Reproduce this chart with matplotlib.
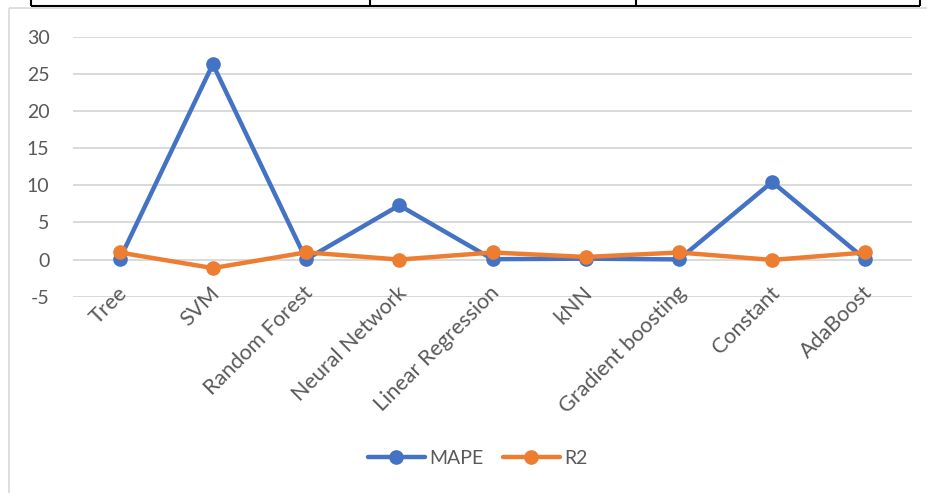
import matplotlib
matplotlib.use("Agg")
import matplotlib.pyplot as plt
import matplotlib.transforms as mtransforms
from matplotlib.lines import Line2D

# Model comparison data
models = ["Tree", "SVM", "Random Forest", "Neural Network", "Linear Regression",
          "kNN", "Gradient boosting", "Constant", "AdaBoost"]
mape = [0.02, 26.3, 0.02, 7.3, 0.05, 0.12, 0.02, 10.45, 0.02]
r2 = [0.95, -1.15, 0.97, 0.0, 0.95, 0.35, 0.95, -0.05, 0.95]
y_ticks = [-5, 0, 5, 10, 15, 20, 25, 30]

BLUE = "#4472C4"
ORANGE = "#ED7D31"
GRID = "#D9D9D9"
TEXT = "#595959"

plt.rcParams["font.family"] = ["Lato", "DejaVu Sans"]
plt.rcParams["axes.unicode_minus"] = False

W, H = 927, 493
fig = plt.figure(figsize=(W / 100, H / 100), dpi=100)

# Surrounding table rule and chart frame
def px_line(x0, y0, x1, y1, color, lw):
    fig.add_artist(Line2D([x0 / W, x1 / W], [1 - y0 / H, 1 - y1 / H],
                          transform=fig.transFigure, color=color, lw=lw,
                          solid_capstyle="butt"))

px_line(31, 5.5, 920, 5.5, "black", 1.5)
for xv in (31, 370, 636, 920):
    px_line(xv, 0, xv, 6, "black", 1.5)
px_line(9, 8, 927, 8, GRID, 1.2)
px_line(9, 8, 9, 493, GRID, 1.2)

ax = fig.add_axes([73 / W, 1 - 296.7 / H, (912 - 73) / W, (296.7 - 36.7) / H])
x = list(range(len(models)))

ax.plot(x, mape, color=BLUE, lw=3.2, marker="o", ms=9.5, label="MAPE",
        solid_capstyle="round", solid_joinstyle="round", zorder=3)
ax.plot(x, r2, color=ORANGE, lw=3.2, marker="o", ms=9.5, label="R2",
        solid_capstyle="round", solid_joinstyle="round", zorder=4)

ax.set_xlim(-0.5, len(models) - 0.5)
ax.set_ylim(-5, 30)
ax.set_yticks(y_ticks)
ax.yaxis.grid(True, color=GRID, lw=1.4)
ax.set_axisbelow(True)
# category labels sit above the gridlines
ax.xaxis.set_zorder(2.5)
for s in ax.spines.values():
    s.set_visible(False)

ax.tick_params(axis="y", length=0, pad=17, labelsize=14, labelcolor=TEXT)
ax.tick_params(axis="x", length=0, pad=-5, labelsize=15.5, labelcolor=TEXT)
ax.set_xticks(x)
ax.set_xticklabels(models, rotation=45, ha="right", va="center",
                   rotation_mode="anchor")
offset = mtransforms.ScaledTranslation(4 / 100, 0, fig.dpi_scale_trans)
for lbl in ax.get_xticklabels():
    lbl.set_transform(lbl.get_transform() + offset)

leg = fig.legend(loc="center", bbox_to_anchor=(478 / W, 1 - 458 / H),
                 ncol=2, frameon=False, fontsize=14, handlelength=2.9,
                 handletextpad=0.25, columnspacing=1.0, labelcolor=TEXT)

fig.savefig("out.png", dpi=100)
